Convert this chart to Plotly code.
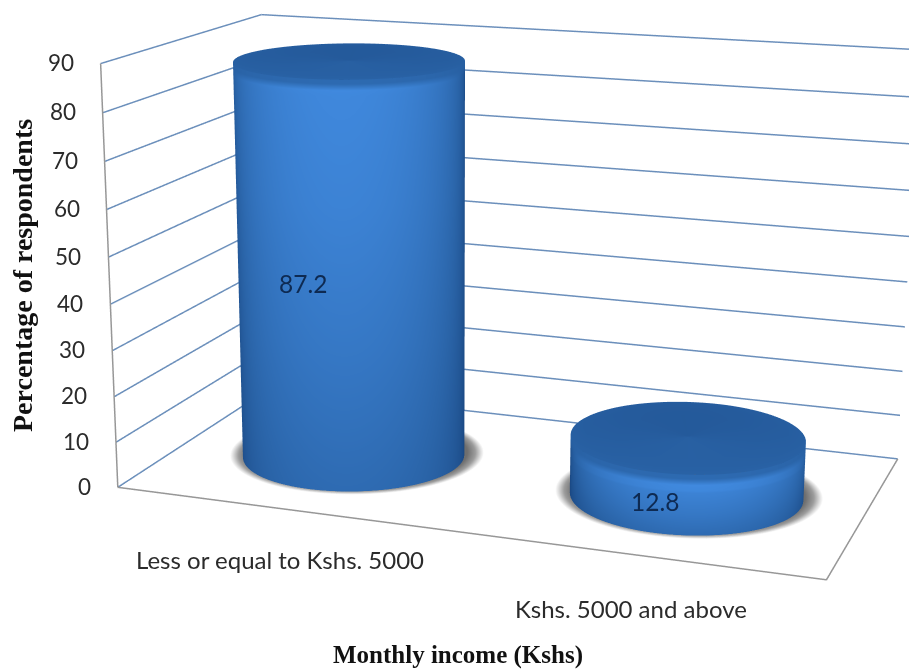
import numpy as np
import plotly.graph_objects as go

categories = ["Less or equal to Kshs. 5000", "Kshs. 5000 and above"]
values = [87.2, 12.8]
value_labels = ["87.2", "12.8"]
tick_values = [0, 10, 20, 30, 40, 50, 60, 70, 80, 90]
y_title = "Percentage of respondents"
x_title = "Monthly income (Kshs)"

# layout geometry of the 3D box
FIG_W, FIG_H, TOP_OFFSET, LEFT_OFFSET = 909, 1937, 636.5, 3.5
ASPECT = dict(x=1.01, y=0.51, z=0.6017)
CAMERA = dict(eye=dict(x=1.0278, y=-3.0153, z=0.7965),
              center=dict(x=-0.0688, y=-0.0484, z=-0.0854),
              up=dict(x=-0.094, y=0.2518, z=0.9632))
BAR_X = [0.2537, 0.7525]
BAR_Y = 0.49
RADIUS = 0.1626
CAP = 2.2  # height of the bevel below the top face, in axis units

BLUES = [[0, "#123a70"], [0.5, "#2a64a8"], [1, "#4089de"]]
GREYS = [[0, "#6a6a6a"], [0.5, "#9c9c9c"], [1, "#ffffff"]]
GRID = "#6b8fbb"
EDGE = "#979797"
TEXT = "#2b2b2b"
VIEW_ANGLE = np.arctan2(CAMERA["eye"]["y"], CAMERA["eye"]["x"])
RX, RY = RADIUS / ASPECT["x"], RADIUS / ASPECT["y"]


def no_light():
    return dict(ambient=1, diffuse=0, specular=0, roughness=1, fresnel=0)


def cylinder(xc, h):
    th = np.linspace(0, 2 * np.pi, 145)
    rows = np.array([0, 0.35 * h, 0.7 * h, h - CAP - 1.2, h - CAP, h - CAP * 0.4, h])
    vf = np.array([0.62, 0.8, 0.95, 1.02, 1.04, 0, 0])
    T, Z = np.meshgrid(th, rows)
    s = np.clip(np.cos(T - VIEW_ANGLE), 0, 1)
    shade = (0.16 + 0.80 * s ** 0.75) * vf[:, None]
    shade[-2:] = (0.42 + 0.16 * s[-2:])
    side = go.Surface(x=xc + RX * np.cos(T), y=BAR_Y + RY * np.sin(T), z=Z, surfacecolor=shade,
                      colorscale=BLUES, cmin=0, cmax=1, showscale=False, hoverinfo="skip", lighting=no_light())
    rr = np.array([0, 0.6, 0.86, 1.0])
    cc = np.array([0.44, 0.44, 0.45, 0.47])
    R, T2 = np.meshgrid(rr, th)
    C = np.tile(cc, (len(th), 1)) * (0.95 + 0.08 * np.cos(T2 - VIEW_ANGLE))
    top = go.Surface(x=xc + RX * R * np.cos(T2), y=BAR_Y + RY * R * np.sin(T2), z=np.full_like(R, h),
                     surfacecolor=C, colorscale=BLUES, cmin=0, cmax=1,
                     showscale=False, hoverinfo="skip", lighting=no_light())
    return side, top


def shadow(xc):
    th = np.linspace(0, 2 * np.pi, 145)
    rr = np.array([0, 0.9, 1.0, 1.04, 1.08, 1.12, 1.15])
    cc = np.array([0, 0, 0.05, 0.3, 0.55, 0.82, 1.0])
    R, T = np.meshgrid(rr, th)
    C = np.tile(cc, (len(th), 1))
    return go.Surface(x=xc + RX * R * np.cos(T), y=BAR_Y + 0.025 + RY * R * np.sin(T),
                      z=np.zeros_like(R), surfacecolor=C, colorscale=GREYS, cmin=0, cmax=1,
                      showscale=False, hoverinfo="skip", lighting=no_light())


fig = go.Figure()

for t in tick_values:
    fig.add_trace(go.Scatter3d(x=[0, 0, 1], y=[0, 1, 1], z=[t, t, t], mode="lines",
                               line=dict(color=GRID, width=3), hoverinfo="skip", showlegend=False))
fig.add_trace(go.Scatter3d(x=[0, 0], y=[0, 0], z=[0, tick_values[-1]], mode="lines",
                           line=dict(color=EDGE, width=3), hoverinfo="skip", showlegend=False))
fig.add_trace(go.Scatter3d(x=[0, 1, 1], y=[0, 0, 1], z=[0, 0, 0], mode="lines",
                           line=dict(color=EDGE, width=3), hoverinfo="skip", showlegend=False))

for xc, v in zip(BAR_X, values):
    fig.add_trace(shadow(xc))
    side, top = cylinder(xc, v)
    fig.add_trace(side)
    fig.add_trace(top)

scene_ann = []
for t in tick_values:
    scene_ann.append(dict(x=0, y=0, z=t, text=str(t), showarrow=False, xanchor="right", yanchor="middle",
                          xshift=-25, yshift=1, font=dict(family="Lato", size=22.5, color=TEXT)))
cat_shift = [(-3, -51), (-5, -53)]
val_shift = [(-3, 5), (0, 1)]
for i, (xc, v) in enumerate(zip(BAR_X, values)):
    scene_ann.append(dict(x=xc, y=0, z=0, text=categories[i], showarrow=False,
                          xshift=cat_shift[i][0], yshift=cat_shift[i][1],
                          font=dict(family="Lato", size=24, color=TEXT)))
    scene_ann.append(dict(x=xc, y=BAR_Y - RY, z=v / 2, text=value_labels[i], showarrow=False,
                          xshift=val_shift[i][0], yshift=val_shift[i][1],
                          font=dict(family="Lato", size=24.5, color="#0e2a52")))


def py(p):
    return 1 - (p + TOP_OFFSET) / FIG_H


axis = dict(visible=False, showgrid=False, showbackground=False, zeroline=False, showspikes=False)
fig.update_layout(
    width=FIG_W, height=FIG_H, autosize=False,
    margin=dict(l=0, r=0, t=0, b=0),
    paper_bgcolor="white",
    showlegend=False,
    scene=dict(
        domain=dict(x=[0, 1], y=[0, 1]),
        aspectmode="manual", aspectratio=ASPECT, camera=CAMERA,
        xaxis=dict(range=[0, 1], **axis),
        yaxis=dict(range=[0, 1], **axis),
        zaxis=dict(range=[0, tick_values[-1]], **axis),
        annotations=scene_ann,
    ),
    annotations=[
        dict(xref="paper", yref="paper", x=(22 - LEFT_OFFSET) / FIG_W, y=py(275), text=y_title, textangle=-90,
             showarrow=False, xanchor="center", yanchor="middle",
             font=dict(family="Liberation Serif", size=28, color="#111111", weight="bold")),
        dict(xref="paper", yref="paper", x=(457 - LEFT_OFFSET) / FIG_W, y=py(654), text=x_title, showarrow=False,
             xanchor="center", yanchor="middle",
             font=dict(family="Liberation Serif", size=25, color="#111111", weight="bold")),
    ],
)

post = ("document.documentElement.style.overflow='hidden';document.body.style.overflow='hidden';"
        "document.body.style.margin='0';"
        "document.getElementById('{plot_id}').style.marginTop='-%spx';"
        "document.getElementById('{plot_id}').style.marginLeft='%spx';" % (TOP_OFFSET, LEFT_OFFSET))
fig.write_html("out.html", post_script=post, config=dict(displayModeBar=False))
